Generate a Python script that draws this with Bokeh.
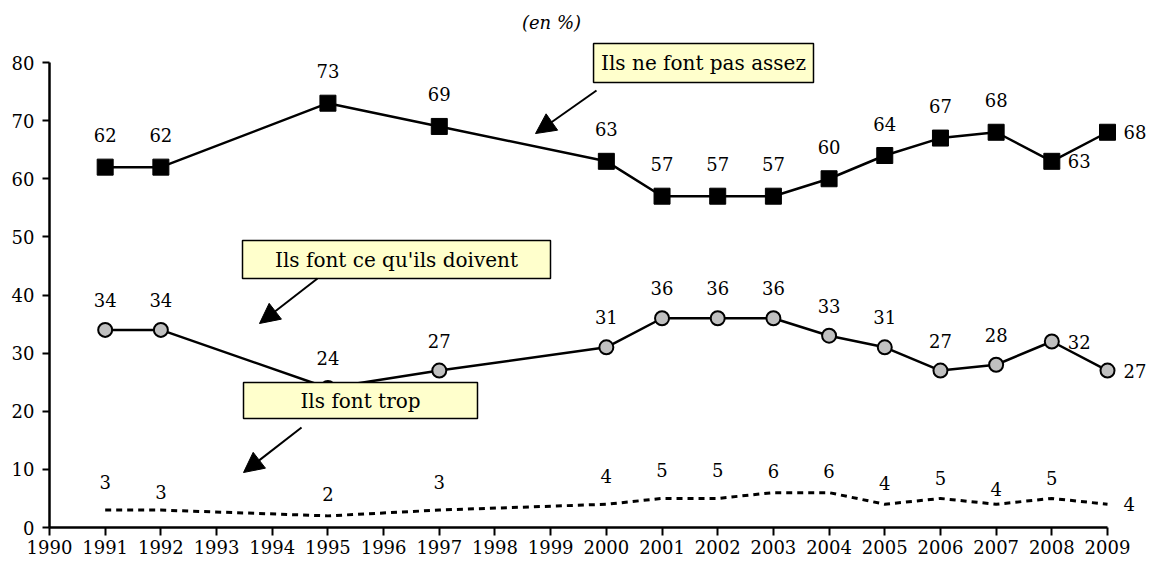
from bokeh.plotting import figure
from bokeh.models import Arrow, NormalHead, Label, FixedTicker, ColumnDataSource, Range1d
from bokeh.core.properties import value
from bokeh.embed import file_html
from bokeh.resources import INLINE

# ---- data ----
years = [1991, 1992, 1995, 1997, 2000, 2001, 2002, 2003, 2004, 2005, 2006, 2007, 2008, 2009]
pas_assez = [62, 62, 73, 69, 63, 57, 57, 57, 60, 64, 67, 68, 63, 68]
doivent = [34, 34, 24, 27, 31, 36, 36, 36, 33, 31, 27, 28, 32, 27]
trop = [3, 3, 2, 3, 4, 5, 5, 6, 6, 4, 5, 4, 5, 4]
x_ticks = list(range(1990, 2010))
y_ticks = [0, 10, 20, 30, 40, 50, 60, 70, 80]

# label placement (layout only)
pos_pas = ["top"] * 12 + ["right", "right"]
pos_doi = ["top"] * 12 + ["right", "right"]
pos_trop = ["top"] * 13 + ["right"]
dy_trop = [28, 18, 22, 28, 28, 28, 28, 22, 22, 21, 20, 15, 20, 0]

FONT = "DejaVu Serif"
NUM_SIZE = "18px"

p = figure(width=1150, height=565,
           x_range=Range1d(1990, 2009.772), y_range=Range1d(0, 90.67),
           output_backend="svg", toolbar_location=None,
           min_border_left=49, min_border_right=0, min_border_top=0, min_border_bottom=38)
p.outline_line_color = None
p.xgrid.visible = False
p.ygrid.visible = False
p.background_fill_color = "white"

for ax in (p.xaxis, p.yaxis):
    ax.axis_line_color = "black"
    ax.axis_line_width = 2.5
    ax.major_tick_line_color = "black"
    ax.major_tick_line_width = 2
    ax.minor_tick_line_color = None
    ax.major_tick_in = 0
    ax.major_label_text_font = FONT
    ax.major_label_text_font_size = NUM_SIZE
    ax.major_label_text_color = "black"

p.xaxis.ticker = FixedTicker(ticks=x_ticks)
p.yaxis.ticker = FixedTicker(ticks=y_ticks)
p.xaxis.bounds = (1990, 2009)
p.yaxis.bounds = (0, 80)
p.xaxis.major_tick_out = 8
p.yaxis.major_tick_out = 7
p.xaxis.major_label_standoff = 4
p.yaxis.major_label_standoff = 8

# series lines
p.line(years, trop, line_color="black", line_width=3, line_dash="6 5")
p.line(years, doivent, line_color="black", line_width=2.5)
p.line(years, pas_assez, line_color="black", line_width=2.5)
p.scatter(years, pas_assez, marker="square", size=16, fill_color="black", line_color="black")
p.scatter(years, doivent, marker="circle", size=14, fill_color="#C0C0C0", line_color="black", line_width=2)


def add_labels(vals, pos, dys):
    top = dict(x=[], y=[], t=[], dy=[])
    right = dict(x=[], y=[], t=[])
    for x, v, ps, d in zip(years, vals, pos, dys):
        if ps == "top":
            top["x"].append(x); top["y"].append(v); top["t"].append(str(v)); top["dy"].append(-d)
        else:
            right["x"].append(x); right["y"].append(v); right["t"].append(str(v))
    p.text(x="x", y="y", text="t", y_offset="dy", source=ColumnDataSource(top),
           text_align="center", text_baseline="middle", text_font=value(FONT),
           text_font_size=NUM_SIZE, text_color="black")
    p.text(x="x", y="y", text="t", x_offset=16, source=ColumnDataSource(right),
           text_align="left", text_baseline="middle", text_font=value(FONT),
           text_font_size=NUM_SIZE, text_color="black")


add_labels(pas_assez, pos_pas, [32] * len(years))
add_labels(doivent, pos_doi, [30] * len(years))
add_labels(trop, pos_trop, dy_trop)

# callout boxes
boxes = [
    (1999.77, 2003.72, 83.27, 76.56, 2001.745, 79.91, "Ils ne font pas assez"),
    (1993.466, 1998.997, 49.38, 42.84, 1996.232, 46.1, "Ils font ce qu'ils doivent"),
    (1993.484, 1997.686, 24.95, 18.75, 1995.585, 21.85, "Ils font trop"),
]
for l, r, t, b, tx, ty, txt in boxes:
    p.quad(left=[l], right=[r], top=[t], bottom=[b], fill_color="#FFFFCC",
           line_color="black", line_width=1.5)
    p.add_layout(Label(x=tx, y=ty, text=txt, text_align="center", text_baseline="middle",
                       text_font=FONT, text_font_size="20px", text_color="black"))

arrows = [
    (1999.823, 75.18, 1998.728, 67.78),
    (1994.813, 42.84, 1993.771, 35.10),
    (1994.526, 17.20, 1993.484, 9.46),
]
for xs, ys, xe, ye in arrows:
    p.add_layout(Arrow(end=NormalHead(size=20, fill_color="black", line_color="black"),
                       x_start=xs, y_start=ys, x_end=xe, y_end=ye,
                       line_color="black", line_width=2))

p.add_layout(Label(x=1999.015, y=86.88, text="(en %)", text_align="center",
                   text_baseline="middle", text_font=FONT,
                   text_font_style="italic", text_font_size="18px", text_color="black"))

open("out.html", "w").write(file_html(p, INLINE))
